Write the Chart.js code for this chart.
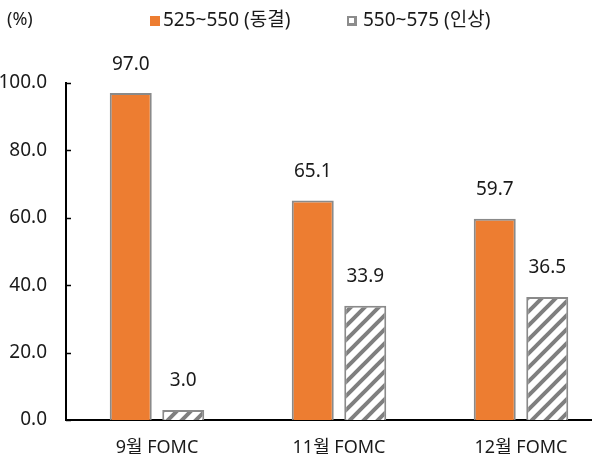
<!DOCTYPE html>
<html><head><meta charset="utf-8">
<script src="https://cdn.jsdelivr.net/npm/chart.js@4.4.0/dist/chart.umd.min.js"></script>
<style>
html,body{margin:0;padding:0;background:#fff;overflow:hidden;width:592px;height:464px}
#wrap{position:relative;width:612px;height:464px}
</style></head>
<body><div id="wrap"><canvas id="c"></canvas></div>
<script>
const categories = ['9월 FOMC', '11월 FOMC', '12월 FOMC'];
const seriesNames = ['525~550 (동결)', '550~575 (인상)'];
const holdValues = [97.0, 65.1, 59.7];
const hikeValues = [3.0, 33.9, 36.5];
const yMin = 0, yMax = 100, yStep = 20;
const unitLabel = '(%)';

const FONT = "'Noto Sans', 'Noto Sans CJK KR', sans-serif";
const TEXT = '#1a1a1a';
const ORANGE = '#ED7D31';
const GRAY = '#8a8a8a';

// hatch pattern
function makeHatch() {
  const s = 14;
  const t = document.createElement('canvas');
  t.width = s; t.height = s;
  const g = t.getContext('2d');
  g.fillStyle = '#fff'; g.fillRect(0, 0, s, s);
  g.strokeStyle = '#7f7f7f'; g.lineWidth = 4;
  g.beginPath();
  g.moveTo(-2, s + 2); g.lineTo(s + 2, -2);
  g.moveTo(-s / 2 - 2, s / 2 + 2); g.lineTo(s / 2 + 2, -s / 2 - 2);
  g.moveTo(s / 2 - 2, s * 1.5 + 2); g.lineTo(s * 1.5 + 2, s / 2 - 2);
  g.stroke();
  return g.createPattern(t, 'repeat');
}
const hatch = makeHatch();

const extras = {
  id: 'extras',
  afterDraw(chart) {
    const ctx = chart.ctx;
    const y = chart.scales.y;
    // inward tick marks on y axis
    ctx.save();
    ctx.strokeStyle = '#000'; ctx.lineWidth = 1.5;
    y.ticks.forEach(t => {
      const py = Math.round(y.getPixelForValue(t.value)) + 0.5;
      ctx.beginPath(); ctx.moveTo(y.right, py); ctx.lineTo(y.right + 5, py); ctx.stroke();
    });
    ctx.restore();
    // unit label
    ctx.save();
    ctx.font = '18px ' + FONT; ctx.fillStyle = TEXT;
    ctx.textBaseline = 'middle'; ctx.textAlign = 'left';
    ctx.fillText(unitLabel, 7, 20);
    // legend
    const items = chart.data.datasets.map(d => d.label);
    const boxX = [150, 347];
    const textX = [163, 363];
    items.forEach((lab, i) => {
      if (i === 0) {
        ctx.fillStyle = ORANGE; ctx.fillRect(boxX[i], 16, 10, 10);
      } else {
        ctx.fillStyle = '#8c8c8c'; ctx.fillRect(boxX[i], 16, 10, 10);
        ctx.fillStyle = '#fff'; ctx.fillRect(boxX[i] + 2, 18, 5, 5);
      }
      ctx.fillStyle = TEXT;
      ctx.font = '19px ' + FONT;
      ctx.fillText(lab, textX[i], 21);
    });
    ctx.restore();
  },
  afterDatasetsDraw(chart) {
    const ctx = chart.ctx;
    ctx.save();
    ctx.font = '19px ' + FONT; ctx.fillStyle = TEXT;
    ctx.textAlign = 'center'; ctx.textBaseline = 'middle';
    chart.data.datasets.forEach((ds, di) => {
      const meta = chart.getDatasetMeta(di);
      meta.data.forEach((bar, i) => {
        ctx.fillText(ds.data[i].toFixed(1), bar.x, bar.y - 29);
      });
    });
    ctx.restore();
  }
};

new Chart(document.getElementById('c'), {
  type: 'bar',
  data: {
    labels: categories,
    datasets: [
      { label: seriesNames[0], data: holdValues, backgroundColor: ORANGE, borderColor: GRAY, borderWidth: 2 },
      { label: seriesNames[1], data: hikeValues, backgroundColor: hatch, borderColor: GRAY, borderWidth: 2 }
    ]
  },
  options: {
    responsive: true,
    maintainAspectRatio: false,
    animation: false,
    devicePixelRatio: 1,
    layout: { padding: { top: 83, left: 0, right: 0, bottom: 0 } },
    categoryPercentage: 0.577,
    barPercentage: 0.8,
    plugins: { legend: { display: false }, tooltip: { enabled: false } },
    scales: {
      x: {
        grid: { display: false, drawTicks: false },
        border: { display: true, color: '#000', width: 2 },
        ticks: { font: { family: FONT, size: 18 }, color: TEXT, padding: 17, maxRotation: 0 },
        afterFit(s) { s.height = 44; }
      },
      y: {
        min: yMin, max: yMax,
        grid: { display: false, drawTicks: false },
        border: { display: true, color: '#000', width: 2 },
        ticks: { stepSize: yStep, font: { family: FONT, size: 19 }, color: TEXT, padding: 19,
                 callback: v => Number(v).toFixed(1) },
        afterFit(s) { s.width = 66; }
      }
    }
  },
  plugins: [extras]
});
</script>
</body></html>
